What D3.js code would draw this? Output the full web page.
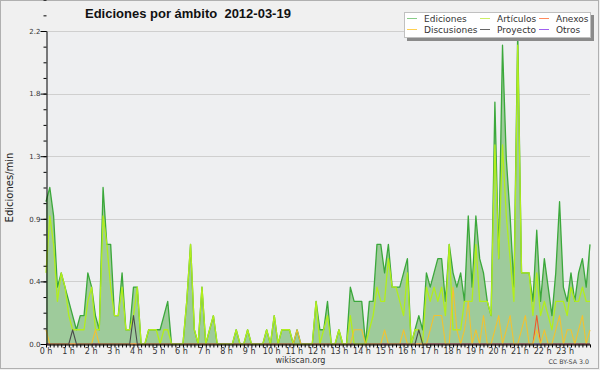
<!DOCTYPE html>
<html><head><meta charset="utf-8">
<script src="https://cdn.jsdelivr.net/npm/d3@7"></script>
<style>html,body{margin:0;padding:0;background:#f0f0f0;} svg{display:block;}</style>
</head><body>
<svg id="c" width="600" height="370"></svg>
<script>
const titleText = "Ediciones por ámbito  2012-03-19";
const yTitle = "Ediciones/min";
const hours = d3.range(24);
const hourLabels = hours.map(h => h + " h");
const yTickValues = [0, 0.44, 0.88, 1.32, 1.76, 2.2];
const yTickLabels = ["0.0", "0.4", "0.9", "1.3", "1.8", "2.2"];
const seriesNames = ["Ediciones", "Artículos", "Anexos", "Discusiones", "Proyecto", "Otros"];

// 10-minute bins, 144 per day (edits/min)
const ediciones = [
  1.0,1.1,0.9,0.4,0.5,0.4,0.3,0.2,0.1,0.2,0.2,0.5,
  0.4,0.2,0.1,1.1,0.7,0.7,0.2,0.2,0.5,0.1,0.1,0.4,
  0.4,0,0,0.1,0.1,0.1,0.1,0.2,0.3,0,0,0,
  0,0.3,0.7,0.1,0,0.4,0,0.1,0.2,0,0,0,
  0,0,0.1,0,0,0.1,0,0,0,0,0.1,0,
  0.2,0,0.1,0.1,0.1,0,0.1,0,0,0,0,0.3,
  0.1,0.1,0.3,0,0,0.1,0,0,0.4,0.3,0.3,0.3,
  0,0.3,0.3,0.7,0.7,0.5,0.7,0.4,0.4,0.4,0.5,0.6,
  0,0.1,0.2,0.1,0.5,0.4,0.5,0.6,0.6,0.3,0.7,0.5,
  0.4,0.5,0.3,0.9,0.4,0.9,0.6,0.5,0.3,0.2,1.7,0.6,
  2.1,1.3,0.9,0.4,2.2,0.5,0.5,0.5,0.3,0.8,0.3,0.6,
  0.4,0.2,0.5,1.0,0.4,0.3,0.5,0.3,0.5,0.6,0.4,0.7
];
const articulos = [
  0.5,0.9,0.7,0.3,0.5,0.4,0.2,0.1,0.1,0.1,0.1,0.3,
  0.4,0.1,0.1,0.9,0.7,0.4,0.2,0.2,0.4,0.1,0.1,0.2,
  0.4,0,0,0.1,0.1,0.1,0,0.1,0.1,0,0,0,
  0,0.3,0.7,0.1,0,0.4,0,0.1,0.2,0,0,0,
  0,0,0.1,0,0,0.1,0,0,0,0,0.1,0,
  0.2,0,0.1,0.1,0.1,0,0,0,0,0,0,0.3,
  0,0.1,0.2,0,0,0.1,0,0,0.2,0,0,0,
  0,0.1,0.2,0.4,0.3,0.3,0.6,0.4,0.4,0.3,0.2,0.5,
  0,0.1,0.1,0,0.4,0.3,0.4,0.3,0.4,0.2,0.7,0.1,
  0.1,0.1,0.3,0.3,0.3,0.7,0.3,0.3,0.3,0.2,1.4,0.6,
  1.4,0.9,0.6,0.3,2.1,0.5,0.5,0.5,0.2,0.5,0.2,0.3,
  0.2,0.1,0.3,0.3,0.3,0.2,0.4,0.3,0.3,0.4,0.3,0.3
];
const anexos = [
  0,0,0,0,0,0,0,0,0,0,0,0,
  0,0,0,0,0,0,0,0,0,0,0,0,
  0,0,0,0,0,0,0,0,0,0,0,0,
  0,0,0,0,0,0,0,0,0,0,0,0,
  0,0,0,0,0,0,0,0,0,0,0,0,
  0,0,0,0,0,0,0,0,0,0,0,0,
  0,0,0,0,0,0,0,0,0,0,0,0,
  0,0,0,0,0,0,0,0,0,0,0,0,
  0,0,0,0,0,0,0,0,0,0,0,0,
  0,0,0,0,0,0,0,0,0,0,0,0,
  0,0,0,0,0,0,0,0,0,0.2,0,0,
  0,0,0,0,0,0,0,0,0,0,0,0
];
const discusiones = [
  0.1,0,0,0,0,0,0,0,0,0,0,0,
  0,0.1,0,0,0,0,0,0,0,0,0,0,
  0,0,0,0,0,0,0,0,0,0,0,0,
  0,0,0,0,0,0,0,0,0,0,0,0,
  0,0,0,0,0,0,0,0,0,0,0,0,
  0,0,0,0,0,0,0.1,0,0,0,0,0,
  0,0,0,0,0,0,0,0,0,0.1,0.1,0.1,
  0,0,0,0,0,0.1,0,0,0,0,0.1,0,
  0,0,0,0,0,0.1,0.2,0.2,0.2,0,0,0.4,
  0.1,0,0.1,0.3,0,0.1,0,0.2,0,0,0.1,0.2,
  0,0.1,0.2,0,0,0.1,0.2,0,0,0.1,0,0.1,
  0,0,0.1,0.2,0,0.1,0.1,0,0.1,0.2,0,0.1
];
const proyecto = [
  0,0,0,0,0,0,0,0.1,0,0,0,0,
  0,0,0,0,0,0,0,0,0,0,0,0.2,
  0,0,0,0,0,0,0,0,0,0,0,0,
  0,0,0,0,0,0,0,0,0,0,0,0,
  0,0,0,0,0,0,0,0,0,0,0,0,
  0,0,0,0,0,0,0,0,0,0,0,0,
  0,0,0,0,0,0,0,0,0,0,0,0,
  0,0,0,0,0,0,0,0,0,0,0,0,
  0,0,0.1,0,0,0,0,0,0,0,0,0,
  0,0,0,0,0,0,0,0,0,0,0,0,
  0,0,0,0,0,0,0,0,0,0,0,0,
  0,0,0,0,0,0,0,0,0,0,0,0
];
const otros = [
  0,0,0,0,0,0,0,0,0,0,0,0,
  0,0,0,0,0,0,0,0,0,0,0,0,
  0,0,0,0,0,0,0,0,0,0,0,0,
  0,0,0,0,0,0,0,0,0,0,0,0,
  0,0,0,0,0,0,0,0,0,0,0,0,
  0,0,0,0,0,0,0,0,0,0,0,0,
  0,0,0,0,0,0,0,0,0,0,0,0,
  0,0,0,0,0,0,0,0,0,0,0,0,
  0,0,0,0,0,0,0,0,0,0,0,0,
  0,0,0,0,0,0,0,0,0,0,0,0,
  0,0,0,0,0,0,0,0,0,0,0,0,
  0,0,0,0,0,0,0,0,0,0,0,0
];

const colors = {
  "Ediciones": "#3ba83b",
  "Artículos": "#b2ee1c",
  "Anexos": "#f05a28",
  "Discusiones": "#f2c230",
  "Proyecto": "#4a4a4a",
  "Otros": "#9b4de6"
};
const legendColors = {
  "Ediciones": "#88cc88",
  "Artículos": "#ccee66",
  "Anexos": "#ff8a5c",
  "Discusiones": "#ffd050",
  "Proyecto": "#666666",
  "Otros": "#a060f0"
};
const dataByName = {
  "Ediciones": ediciones, "Artículos": articulos, "Anexos": anexos,
  "Discusiones": discusiones, "Proyecto": proyecto, "Otros": otros
};

const svg = d3.select("#c");
const X0 = 46, X1 = 590, Y0 = 344, Y1 = 31;
const x = d3.scaleLinear().domain([0, ediciones.length - 1]).range([X0, X1]);
const xh = d3.scaleLinear().domain([0, 24]).range([X0, 587.7]);
const y = d3.scaleLinear().domain([0, 2.2]).range([Y0, Y1]);

// background & frame
svg.append("rect").attr("x", 0).attr("y", 0).attr("width", 600).attr("height", 370).attr("fill", "#f0f0f0");
svg.append("rect").attr("x", 0.5).attr("y", 0.5).attr("width", 598).attr("height", 368)
  .attr("fill", "none").attr("stroke", "#b0b0b0");
svg.append("rect").attr("x", X0).attr("y", Y1).attr("width", X1 - X0).attr("height", Y0 - Y1).attr("fill", "#eeeff1");

// grid
svg.append("g").selectAll("line").data(yTickValues.slice(1)).join("line")
  .attr("x1", X0).attr("x2", X1)
  .attr("y1", d => Math.round(y(d)) + 0.5).attr("y2", d => Math.round(y(d)) + 0.5)
  .attr("stroke", "#cfcfcf").attr("stroke-width", 1);

// Ediciones area
const idx = d3.range(ediciones.length);
svg.append("path").datum(idx)
  .attr("d", d3.area().x(i => x(i)).y0(Y0).y1(i => y(ediciones[i])))
  .attr("fill", "#9ecb9b");

// lines: draw order
const drawOrder = ["Otros", "Anexos", "Ediciones", "Artículos", "Discusiones", "Proyecto"];
drawOrder.forEach(name => {
  const arr = dataByName[name];
  svg.append("path").datum(idx)
    .attr("d", d3.line().x(i => x(i)).y(i => y(arr[i])))
    .attr("fill", "none").attr("stroke", colors[name])
    .attr("stroke-width", name === "Ediciones" || name === "Artículos" ? 1.3 : 1.1)
    .attr("stroke-linejoin", "round");
});

// y axis
const yAxis = d3.axisLeft(y).tickValues(yTickValues).tickSize(6).tickSizeOuter(0)
  .tickFormat((d, i) => yTickLabels[i]);
const gy = svg.append("g").attr("transform", `translate(${X0 + 0.5},0)`).call(yAxis);
gy.select(".domain").attr("stroke", "#000");
gy.selectAll(".tick line").attr("stroke", "#000");
gy.selectAll(".tick text").attr("x", -6).attr("font-family", "DejaVu Sans").attr("font-size", 7).attr("fill", "#333");
const yMinor = d3.axisLeft(y).tickValues(d3.range(0, 23).map(k => k * 0.11)).tickSize(3).tickSizeOuter(0).tickFormat("");
const gym = svg.append("g").attr("transform", `translate(${X0 + 0.5},0)`).call(yMinor);
gym.select(".domain").remove();
gym.selectAll(".tick line").attr("stroke", "#000");

// x axis
const xAxis = d3.axisBottom(x).tickValues(idx).tickSize(3).tickSizeOuter(0).tickFormat("");
const gx = svg.append("g").attr("transform", `translate(0,${Y0 + 0.5})`).call(xAxis);
gx.select(".domain").attr("stroke", "#000");
gx.selectAll(".tick line").attr("stroke", "#000");
svg.append("g").selectAll("text").data(hours).join("text")
  .attr("x", h => xh(h)).attr("y", 354)
  .attr("text-anchor", "middle").attr("font-family", "DejaVu Sans").attr("font-size", 8).attr("fill", "#333")
  .text((h, i) => hourLabels[i]);

// y title
svg.append("text").attr("transform", "translate(13,187.5) rotate(-90)")
  .attr("text-anchor", "middle").attr("font-family", "DejaVu Sans").attr("font-size", 10).attr("fill", "#222")
  .text(yTitle);

// title
svg.append("text").attr("x", 85).attr("y", 18.3).style("white-space", "pre")
  .attr("font-family", "Liberation Sans").attr("font-weight", "bold").attr("font-size", 13).attr("fill", "#111")
  .text(titleText);

// legend
const lg = svg.append("g");
lg.append("rect").attr("x", 407).attr("y", 15).attr("width", 187).attr("height", 26).attr("fill", "#8a8a8a");
lg.append("rect").attr("x", 404.5).attr("y", 12.5).attr("width", 186).attr("height", 25).attr("fill", "#fff").attr("stroke", "#c0c0c0");
const colX = [407, 480, 539];
const rowY = [18.5, 29.5];
seriesNames.forEach((name, k) => {
  const cx = colX[k % 3], cy = rowY[Math.floor(k / 3)];
  lg.append("line").attr("x1", cx).attr("x2", cx + 10).attr("y1", cy).attr("y2", cy)
    .attr("stroke", legendColors[name]).attr("stroke-width", 1);
  lg.append("text").attr("x", cx + 17).attr("y", cy + 3.5)
    .attr("font-family", "DejaVu Sans").attr("font-size", 9).attr("fill", "#333").text(name);
});

// footer
svg.append("text").attr("x", 300.5).attr("y", 363).attr("text-anchor", "middle")
  .attr("font-family", "DejaVu Sans").attr("font-size", 8).attr("fill", "#333").text("wikiscan.org");
svg.append("text").attr("x", 589).attr("y", 364).attr("text-anchor", "end")
  .attr("font-family", "DejaVu Sans").attr("font-size", 6.3).attr("fill", "#444").text("CC BY-SA 3.0");
</script>
</body></html>
